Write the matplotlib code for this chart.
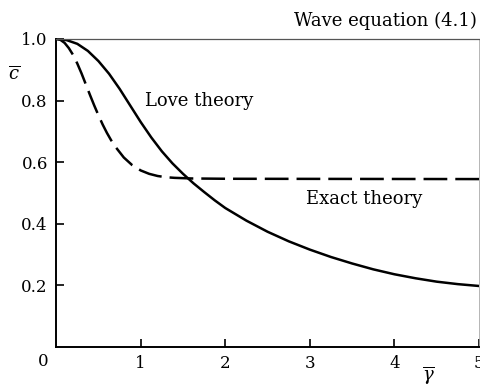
import matplotlib
matplotlib.use("Agg")
import matplotlib.pyplot as plt

plt.rcParams['font.family'] = ['DejaVu Serif']
plt.rcParams['mathtext.fontset'] = 'dejavuserif'

# Love theory (solid)
love_g = [0, 0.125, 0.25, 0.375, 0.5, 0.625, 0.75, 0.875, 1.0, 1.125, 1.25, 1.375, 1.5,
          1.625, 1.75, 1.875, 2.0, 2.25, 2.5, 2.75, 3.0, 3.25, 3.5, 3.75, 4.0, 4.25,
          4.5, 4.75, 5.0]
love_c = [1.0, 0.996, 0.984, 0.961, 0.928, 0.887, 0.838, 0.784, 0.73, 0.68, 0.635, 0.596,
          0.562, 0.531, 0.503, 0.476, 0.451, 0.41, 0.374, 0.343, 0.316, 0.292, 0.271,
          0.252, 0.236, 0.223, 0.212, 0.204, 0.198]

# Exact theory (dashed)
exact_g = [0, 0.05, 0.1, 0.15, 0.2, 0.25, 0.3, 0.35, 0.4, 0.45, 0.5, 0.55, 0.6, 0.65,
           0.7, 0.8, 0.9, 1.0, 1.1, 1.2, 1.3, 1.4, 1.6, 2.0, 5.0]
exact_c = [1.0, 0.997, 0.987, 0.97, 0.948, 0.92, 0.888, 0.853, 0.818, 0.784, 0.752,
           0.722, 0.695, 0.671, 0.65, 0.615, 0.59, 0.573, 0.562, 0.555, 0.551, 0.549,
           0.547, 0.546, 0.545]

xticks = [1, 2, 3, 4, 5]
yticks = [0.2, 0.4, 0.6, 0.8, 1.0]

fig = plt.figure(figsize=(4.8, 3.89), dpi=100)
ax = fig.add_axes([0.117, 0.108, 0.881, 0.792])

ax.plot(love_g, love_c, color='black', lw=1.8)
ax.plot(exact_g, exact_c, color='black', lw=1.8, dashes=(9.5, 3.2))

ax.set_xlim(0, 5)
ax.set_ylim(0, 1.0)
ax.set_xticks(xticks)
ax.set_yticks(yticks)
ax.set_xticklabels([str(t) for t in xticks])
ax.set_yticklabels(['%.1f' % t for t in yticks])
ax.tick_params(direction='in', length=6, width=1.2, labelsize=12, pad=6)

for s in ['left', 'bottom']:
    ax.spines[s].set_linewidth(1.4)
ax.spines['top'].set_linewidth(0.9)
ax.spines['top'].set_color('#555555')
ax.spines['right'].set_linewidth(0.6)
ax.spines['right'].set_color('#aaaaaa')

ax.text(-0.09, -0.02, '0', fontsize=12, ha='right', va='top')
ax.text(-0.5, 0.885, r'$\overline{c}$', fontsize=13, ha='center', va='center')
ax.text(4.4, -0.09, r'$\overline{\gamma}$', fontsize=13, ha='center', va='center')

ax.text(1.05, 0.80, 'Love theory', fontsize=13, ha='left', va='center')
ax.text(2.95, 0.48, 'Exact theory', fontsize=13, ha='left', va='center')
ax.text(4.97, 1.057, 'Wave equation (4.1)', fontsize=13, ha='right', va='center')

fig.savefig('out.png', dpi=100)
